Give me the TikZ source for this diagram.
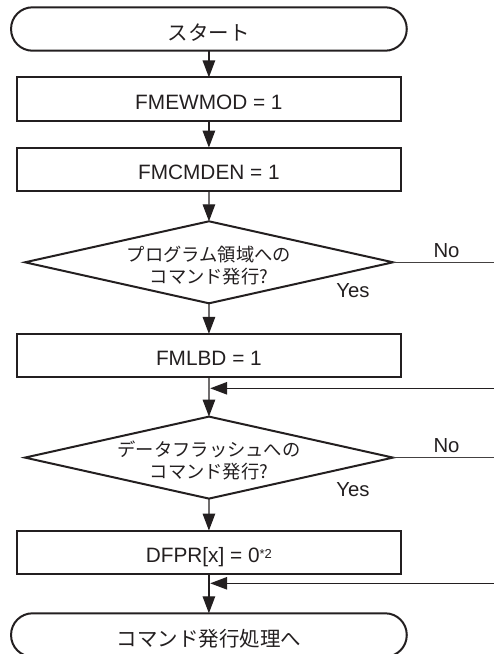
\documentclass[tikz,border=0pt]{standalone}
\usepackage{fontspec}
\setmainfont{Liberation Sans}
\newfontfamily\jp{Noto Sans CJK JP}
\usetikzlibrary{arrows.meta,shapes.geometric}

\definecolor{ink}{HTML}{231F20}

\tikzset{
  x=1pt, y=-1pt,
  every node/.style={inner sep=0pt, outer sep=0pt, text=ink},
  term/.style={draw=ink, line width=2pt, rounded corners=21.5pt,
    minimum width=395.7pt, minimum height=43.4pt,
    font=\jp\fontsize{20.5pt}{24pt}\selectfont, text height=22pt, text depth=0pt},
  procbox/.style={draw=ink, line width=2pt,
    minimum width=384.3pt, minimum height=43.2pt,
    font=\fontsize{20.8pt}{24pt}\selectfont, text height=20.6pt, text depth=0pt},
  decision/.style={draw=ink, line width=2pt, diamond,
    minimum width=368pt, minimum height=82pt},
  dtext/.style={align=center, font=\jp\fontsize{18.3pt}{21.7pt}\selectfont},
  answer/.style={font=\fontsize{20.3pt}{24pt}\selectfont},
  flow/.style={draw=ink, line width=1.3pt,
    -{Triangle[length=17pt,width=12.5pt]}},
  exit/.style={draw=ink!85, line width=1.1pt},
}

\begin{document}
\begin{tikzpicture}
  \useasboundingbox (0,0) rectangle (494,654);

  % main column
  \node[term]    (start) at (208.9,29.0)  {スタート};
  \node[procbox] (ewmod) at (208.9,99.0)  {FMEWMOD = 1};
  \node[procbox] (cmden) at (208.9,169.2) {FMCMDEN = 1};
  \node[decision] (q1)   at (209,262.3)   {};
  \node[dtext]   (q1t)   at ([yshift=-3pt]q1.center) {プログラム領域への\\コマンド発行?};
  \node[procbox] (lbd)   at (208.9,355.5) {FMLBD = 1};
  \node[decision] (q2)   at (209,457.6)   {};
  \node[dtext]   (q2t)   at ([yshift=-3pt]q2.center) {データフラッシュへの\\コマンド発行?};
  \node[procbox] (dfpr)  at (208.9,552.2) {DFPR[x] = 0\raisebox{4.3pt}{\fontsize{13pt}{13pt}\selectfont *2}};
  \node[term]    (cmd)   at (208.9,635.0) {コマンド発行処理へ};

  % branch labels
  \node[answer] (no1)  at (446.5,251.0) {No};
  \node[answer] (yes1) at (353.0,291.0) {Yes};
  \node[answer] (no2)  at (446.5,446.0) {No};
  \node[answer] (yes2) at (353.0,489.3) {Yes};

  % merge points and off-page ends
  \coordinate (m1)  at (208.9,388.3);
  \coordinate (m1r) at (494,388.3);
  \coordinate (m2)  at (208.9,583.3);
  \coordinate (m2r) at (494,583.3);
  \coordinate (q1r) at (494,262.3);
  \coordinate (q2r) at (494,457.6);

  % connectors
  \draw[flow] (start) -- (ewmod);
  \draw[flow] (ewmod) -- (cmden);
  \draw[flow] (cmden) -- (q1);
  \draw[flow] (q1) -- (lbd);
  \draw[flow] (lbd) -- (q2);
  \draw[flow] (q2) -- (dfpr);
  \draw[flow] (dfpr) -- (cmd);
  \draw[exit] (q1.east) -- (q1r);
  \draw[exit] (q2.east) -- (q2r);
  \draw[flow, shorten >=1.3pt] (m1r) -- (m1);
  \draw[flow, shorten >=1.3pt] (m2r) -- (m2);
\end{tikzpicture}
\end{document}
